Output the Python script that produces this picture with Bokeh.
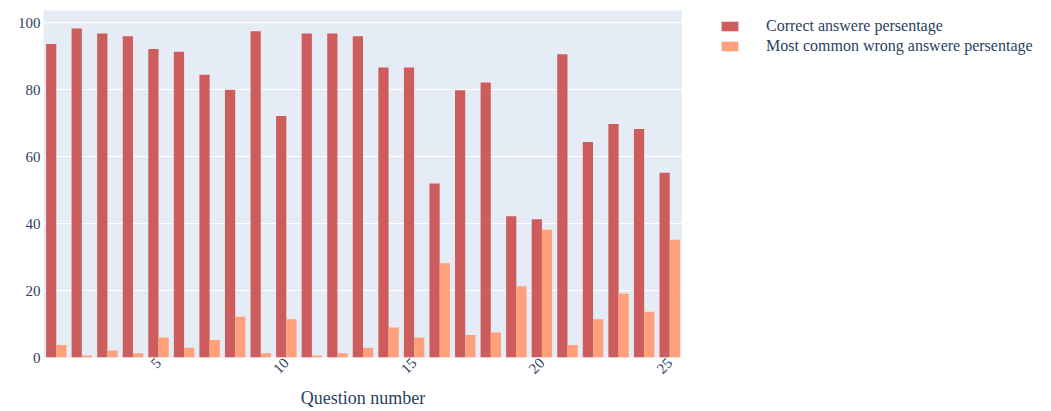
from bokeh.plotting import figure
from bokeh.models import Range1d, ColumnDataSource, Legend, LegendItem, FixedTicker
from bokeh.layouts import row
from bokeh.transform import dodge
from bokeh.embed import file_html
from bokeh.resources import INLINE
import math

questions = list(range(1, 26))
correct_pct = [93.7, 98.3, 96.8, 96.0, 92.2, 91.4, 84.5, 80.0, 97.5, 72.2,
               96.8, 96.8, 96.0, 86.7, 86.7, 52.0, 79.9, 82.2, 42.2, 41.3,
               90.6, 64.4, 69.8, 68.3, 55.2]
wrong_pct = [3.7, 0.6, 2.1, 1.3, 6.0, 2.9, 5.2, 12.2, 1.3, 11.4,
             0.6, 1.3, 2.9, 9.0, 6.0, 28.2, 6.7, 7.5, 21.3, 38.2,
             3.7, 11.4, 19.1, 13.7, 35.2]
series_names = ["Correct answere persentage", "Most common wrong answere persentage"]
series_colors = ["#cd5c5c", "#ffa07a"]
x_ticks = [5, 10, 15, 20, 25]
y_ticks = [0, 20, 40, 60, 80, 100]

src = ColumnDataSource(dict(q=questions, correct=correct_pct, wrong=wrong_pct))

FONT = "Liberation Serif"
TXT = "#2a3f5f"

p = figure(width=682, height=411, output_backend="svg", toolbar_location=None,
           x_range=Range1d(0.5, 25.5), y_range=Range1d(0, 103.7),
           min_border_left=43, min_border_right=0, min_border_top=10, min_border_bottom=54)
p.background_fill_color = "#e5ecf6"
p.border_fill_color = "white"
p.outline_line_color = None

p.vbar(x=dodge("q", -0.2, range=p.x_range), top="correct", width=0.4, source=src,
       fill_color=series_colors[0], line_color=None)
p.vbar(x=dodge("q", 0.2, range=p.x_range), top="wrong", width=0.4, source=src,
       fill_color=series_colors[1], line_color=None)

p.xgrid.grid_line_color = None
p.ygrid.grid_line_color = "white"
p.ygrid.grid_line_width = 1
p.ygrid.ticker = FixedTicker(ticks=y_ticks)

for ax in (p.xaxis[0], p.yaxis[0]):
    ax.axis_line_color = None
    ax.major_tick_line_color = None
    ax.minor_tick_line_color = None
    ax.major_tick_out = 0
    ax.major_tick_in = 0
    ax.minor_tick_out = 0
    ax.major_label_text_font = FONT
    ax.major_label_text_color = TXT
    ax.major_label_text_font_size = "15px"

p.yaxis.ticker = FixedTicker(ticks=y_ticks)
p.yaxis.major_label_standoff = 3
p.xaxis.ticker = FixedTicker(ticks=x_ticks)
p.xaxis.major_label_orientation = math.pi / 4
p.xaxis.major_label_standoff = 3
p.xaxis.axis_label = "Question number"
p.xaxis.axis_label_text_font = FONT
p.xaxis.axis_label_text_font_style = "normal"
p.xaxis.axis_label_text_font_size = "18px"
p.xaxis.axis_label_text_color = TXT
p.xaxis.axis_label_standoff = 7

# legend panel to the right of the plot
lg = figure(width=369, height=411, output_backend="svg", toolbar_location=None,
            x_range=Range1d(0, 1), y_range=Range1d(0, 1),
            min_border_left=31, min_border_right=0, min_border_top=0, min_border_bottom=0)
lg.axis.visible = False
lg.grid.grid_line_color = None
lg.outline_line_color = None
lg.background_fill_color = "white"
# zero-height keys placed outside the visible range: only used to draw legend swatches
keysrc = ColumnDataSource(dict(x=[-5], top=[0]))
k1 = lg.vbar(x="x", top="top", width=0.1, source=keysrc, fill_color=series_colors[0], line_color=None)
k2 = lg.vbar(x="x", top="top", width=0.1, source=keysrc, fill_color=series_colors[1], line_color=None)

legend = Legend(items=[LegendItem(label=series_names[0], renderers=[k1]),
                       LegendItem(label=series_names[1], renderers=[k2])],
                location="top_left", orientation="vertical")
legend.label_text_font = FONT
legend.label_text_color = TXT
legend.label_text_font_size = "16px"
legend.glyph_width = 21
legend.glyph_height = 12
legend.label_height = 20
legend.label_standoff = 26
legend.spacing = 0
legend.padding = 0
legend.margin = 6
legend.border_line_color = None
legend.background_fill_alpha = 0
lg.add_layout(legend, "center")

layout = row(p, lg, spacing=0)
open("out.html", "w").write(file_html(layout, INLINE))
